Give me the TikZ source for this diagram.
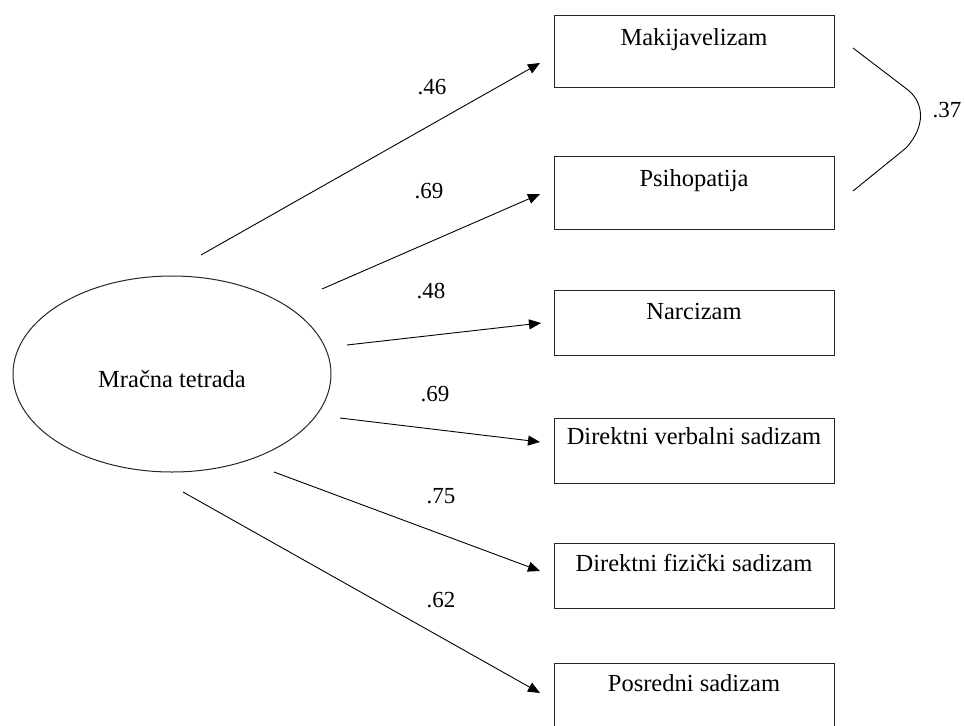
\documentclass[tikz,border=0pt]{standalone}
\usepackage{fontspec}
\setmainfont{Liberation Serif}
\usetikzlibrary{arrows.meta,shapes.geometric}
\begin{document}
\begin{tikzpicture}[x=1pt,y=-1pt,
  box/.style={draw=black!85,line width=1pt,rectangle,minimum width=280pt,minimum height=#1,inner sep=0pt},
  lbl/.style={anchor=base,inner sep=0pt,font=\fontsize{24.5}{28}\selectfont},
  num/.style={anchor=base,inner sep=0pt,font=\fontsize{23}{27}\selectfont},
  arr/.style={line width=0.9pt,-{Triangle[length=12pt,width=10pt]}},
  ]
\useasboundingbox (0,0) rectangle (965,725);
\clip (0,0) rectangle (965,725);
% latent variable
\node[draw=black!85,line width=1pt,ellipse,minimum width=318pt,minimum height=196pt,inner sep=0pt] (lat) at (172,374) {};
\node[lbl] (latt) at (172,387.7) {Mračna tetrada};
% boxes
\node[box=71pt] (b1) at (694,51.5) {};
\node[lbl] (t1) at (694,45.7) {Makijavelizam};
\node[box=73pt] (b2) at (694,192.5) {};
\node[lbl] (t2) at (694,186) {Psihopatija};
\node[box=65pt] (b3) at (694,322.5) {};
\node[lbl] (t3) at (694,319) {Narcizam};
\node[box=65pt] (b4) at (694,450.5) {};
\node[lbl] (t4) at (694,444) {Direktni verbalni sadizam};
\node[box=65pt] (b5) at (694,575.5) {};
\node[lbl] (t5) at (694,571.7) {Direktni fizički sadizam};
\node[box=67pt] (b6) at (694,696.5) {};
\node[lbl] (t6) at (694,691.7) {Posredni sadizam};
% connector endpoints
\coordinate (s1) at (201,255); \coordinate (e1) at (540,63);
\coordinate (s2) at (322,289); \coordinate (e2) at (540,194);
\coordinate (s3) at (347,345); \coordinate (e3) at (541,323);
\coordinate (s4) at (340,418); \coordinate (e4) at (540,442);
\coordinate (s5) at (274,472); \coordinate (e5) at (540,571);
\coordinate (s6) at (183,492); \coordinate (e6) at (540,693);
\draw[arr] (s1) -- (e1);
\draw[arr] (s2) -- (e2);
\draw[arr] (s3) -- (e3);
\draw[arr] (s4) -- (e4);
\draw[arr] (s5) -- (e5);
\draw[arr] (s6) -- (e6);
% loadings
\node[num] (l1) at (432,94.3) {.46};
\node[num] (l2) at (429,198) {.69};
\node[num] (l3) at (431,298) {.48};
\node[num] (l4) at (435,401.7) {.69};
\node[num] (l5) at (441,503) {.75};
\node[num] (l6) at (441,607) {.62};
% correlation
\coordinate (c1) at (853,48);
\coordinate (ca) at (908,90);
\coordinate (cb) at (906,148);
\coordinate (c2) at (853,191);
\draw[line width=0.9pt] (c1) -- (ca) .. controls (924,103) and (926,126) .. (cb) -- (c2);
\node[num] (r) at (947,117) {.37};
\end{tikzpicture}
\end{document}
